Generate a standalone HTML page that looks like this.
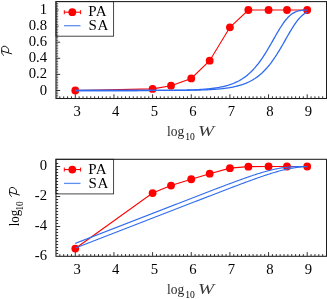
<!DOCTYPE html>
<html><head><meta charset="utf-8"><style>
html,body{margin:0;padding:0;background:#fff;}
svg{display:block;font-family:"Liberation Serif",serif;will-change:transform;}
</style></head><body>
<svg width="327" height="299" viewBox="0 0 327 299">
<rect x="55.97" y="1.6" width="57.62" height="34.60" fill="none" stroke="#333" stroke-width="0.9"/>
<line x1="64.30" y1="12.20" x2="80.60" y2="12.20" stroke="#ff0000" stroke-width="1.1"/>
<line x1="64.30" y1="10.20" x2="64.30" y2="14.20" stroke="#ff0000" stroke-width="1.0"/>
<line x1="80.60" y1="10.20" x2="80.60" y2="14.20" stroke="#ff0000" stroke-width="1.0"/>
<circle cx="72.3" cy="12.2" r="3.9" fill="#ff0000"/>
<line x1="64.00" y1="25.70" x2="80.50" y2="25.70" stroke="#5f8ff0" stroke-width="1.3"/>
<text x="88.3" y="16.00" font-size="15" letter-spacing="0.45">PA</text>
<text x="88.6" y="29.90" font-size="15" letter-spacing="0.45">SA</text>
<rect x="55.97" y="159.3" width="57.62" height="34.60" fill="none" stroke="#333" stroke-width="0.9"/>
<line x1="64.30" y1="169.55" x2="80.60" y2="169.55" stroke="#ff0000" stroke-width="1.1"/>
<line x1="64.30" y1="167.55" x2="64.30" y2="171.55" stroke="#ff0000" stroke-width="1.0"/>
<line x1="80.60" y1="167.55" x2="80.60" y2="171.55" stroke="#ff0000" stroke-width="1.0"/>
<circle cx="72.3" cy="169.55" r="3.9" fill="#ff0000"/>
<line x1="64.00" y1="183.40" x2="80.50" y2="183.40" stroke="#5f8ff0" stroke-width="1.3"/>
<text x="88.3" y="173.70" font-size="15" letter-spacing="0.45">PA</text>
<text x="88.6" y="187.60" font-size="15" letter-spacing="0.45">SA</text>
<line x1="59.84" y1="98.50" x2="59.84" y2="96.30" stroke="#000" stroke-width="0.8"/>
<line x1="63.71" y1="98.50" x2="63.71" y2="96.30" stroke="#000" stroke-width="0.8"/>
<line x1="67.57" y1="98.50" x2="67.57" y2="96.30" stroke="#000" stroke-width="0.8"/>
<line x1="71.43" y1="98.50" x2="71.43" y2="96.30" stroke="#000" stroke-width="0.8"/>
<line x1="75.30" y1="98.50" x2="75.30" y2="94.30" stroke="#000" stroke-width="0.8"/>
<line x1="79.17" y1="98.50" x2="79.17" y2="96.30" stroke="#000" stroke-width="0.8"/>
<line x1="83.03" y1="98.50" x2="83.03" y2="96.30" stroke="#000" stroke-width="0.8"/>
<line x1="86.89" y1="98.50" x2="86.89" y2="96.30" stroke="#000" stroke-width="0.8"/>
<line x1="90.76" y1="98.50" x2="90.76" y2="96.30" stroke="#000" stroke-width="0.8"/>
<line x1="94.62" y1="98.50" x2="94.62" y2="96.30" stroke="#000" stroke-width="0.8"/>
<line x1="98.49" y1="98.50" x2="98.49" y2="96.30" stroke="#000" stroke-width="0.8"/>
<line x1="102.36" y1="98.50" x2="102.36" y2="96.30" stroke="#000" stroke-width="0.8"/>
<line x1="106.22" y1="98.50" x2="106.22" y2="96.30" stroke="#000" stroke-width="0.8"/>
<line x1="110.08" y1="98.50" x2="110.08" y2="96.30" stroke="#000" stroke-width="0.8"/>
<line x1="113.95" y1="98.50" x2="113.95" y2="94.30" stroke="#000" stroke-width="0.8"/>
<line x1="117.81" y1="98.50" x2="117.81" y2="96.30" stroke="#000" stroke-width="0.8"/>
<line x1="121.68" y1="98.50" x2="121.68" y2="96.30" stroke="#000" stroke-width="0.8"/>
<line x1="125.54" y1="98.50" x2="125.54" y2="96.30" stroke="#000" stroke-width="0.8"/>
<line x1="129.41" y1="98.50" x2="129.41" y2="96.30" stroke="#000" stroke-width="0.8"/>
<line x1="133.27" y1="98.50" x2="133.27" y2="96.30" stroke="#000" stroke-width="0.8"/>
<line x1="137.14" y1="98.50" x2="137.14" y2="96.30" stroke="#000" stroke-width="0.8"/>
<line x1="141.00" y1="98.50" x2="141.00" y2="96.30" stroke="#000" stroke-width="0.8"/>
<line x1="144.87" y1="98.50" x2="144.87" y2="96.30" stroke="#000" stroke-width="0.8"/>
<line x1="148.74" y1="98.50" x2="148.74" y2="96.30" stroke="#000" stroke-width="0.8"/>
<line x1="152.60" y1="98.50" x2="152.60" y2="94.30" stroke="#000" stroke-width="0.8"/>
<line x1="156.46" y1="98.50" x2="156.46" y2="96.30" stroke="#000" stroke-width="0.8"/>
<line x1="160.33" y1="98.50" x2="160.33" y2="96.30" stroke="#000" stroke-width="0.8"/>
<line x1="164.20" y1="98.50" x2="164.20" y2="96.30" stroke="#000" stroke-width="0.8"/>
<line x1="168.06" y1="98.50" x2="168.06" y2="96.30" stroke="#000" stroke-width="0.8"/>
<line x1="171.93" y1="98.50" x2="171.93" y2="96.30" stroke="#000" stroke-width="0.8"/>
<line x1="175.79" y1="98.50" x2="175.79" y2="96.30" stroke="#000" stroke-width="0.8"/>
<line x1="179.66" y1="98.50" x2="179.66" y2="96.30" stroke="#000" stroke-width="0.8"/>
<line x1="183.52" y1="98.50" x2="183.52" y2="96.30" stroke="#000" stroke-width="0.8"/>
<line x1="187.38" y1="98.50" x2="187.38" y2="96.30" stroke="#000" stroke-width="0.8"/>
<line x1="191.25" y1="98.50" x2="191.25" y2="94.30" stroke="#000" stroke-width="0.8"/>
<line x1="195.11" y1="98.50" x2="195.11" y2="96.30" stroke="#000" stroke-width="0.8"/>
<line x1="198.98" y1="98.50" x2="198.98" y2="96.30" stroke="#000" stroke-width="0.8"/>
<line x1="202.85" y1="98.50" x2="202.85" y2="96.30" stroke="#000" stroke-width="0.8"/>
<line x1="206.71" y1="98.50" x2="206.71" y2="96.30" stroke="#000" stroke-width="0.8"/>
<line x1="210.57" y1="98.50" x2="210.57" y2="96.30" stroke="#000" stroke-width="0.8"/>
<line x1="214.44" y1="98.50" x2="214.44" y2="96.30" stroke="#000" stroke-width="0.8"/>
<line x1="218.31" y1="98.50" x2="218.31" y2="96.30" stroke="#000" stroke-width="0.8"/>
<line x1="222.17" y1="98.50" x2="222.17" y2="96.30" stroke="#000" stroke-width="0.8"/>
<line x1="226.04" y1="98.50" x2="226.04" y2="96.30" stroke="#000" stroke-width="0.8"/>
<line x1="229.90" y1="98.50" x2="229.90" y2="94.30" stroke="#000" stroke-width="0.8"/>
<line x1="233.76" y1="98.50" x2="233.76" y2="96.30" stroke="#000" stroke-width="0.8"/>
<line x1="237.63" y1="98.50" x2="237.63" y2="96.30" stroke="#000" stroke-width="0.8"/>
<line x1="241.50" y1="98.50" x2="241.50" y2="96.30" stroke="#000" stroke-width="0.8"/>
<line x1="245.36" y1="98.50" x2="245.36" y2="96.30" stroke="#000" stroke-width="0.8"/>
<line x1="249.22" y1="98.50" x2="249.22" y2="96.30" stroke="#000" stroke-width="0.8"/>
<line x1="253.09" y1="98.50" x2="253.09" y2="96.30" stroke="#000" stroke-width="0.8"/>
<line x1="256.95" y1="98.50" x2="256.95" y2="96.30" stroke="#000" stroke-width="0.8"/>
<line x1="260.82" y1="98.50" x2="260.82" y2="96.30" stroke="#000" stroke-width="0.8"/>
<line x1="264.69" y1="98.50" x2="264.69" y2="96.30" stroke="#000" stroke-width="0.8"/>
<line x1="268.55" y1="98.50" x2="268.55" y2="94.30" stroke="#000" stroke-width="0.8"/>
<line x1="272.42" y1="98.50" x2="272.42" y2="96.30" stroke="#000" stroke-width="0.8"/>
<line x1="276.28" y1="98.50" x2="276.28" y2="96.30" stroke="#000" stroke-width="0.8"/>
<line x1="280.15" y1="98.50" x2="280.15" y2="96.30" stroke="#000" stroke-width="0.8"/>
<line x1="284.01" y1="98.50" x2="284.01" y2="96.30" stroke="#000" stroke-width="0.8"/>
<line x1="287.88" y1="98.50" x2="287.88" y2="96.30" stroke="#000" stroke-width="0.8"/>
<line x1="291.74" y1="98.50" x2="291.74" y2="96.30" stroke="#000" stroke-width="0.8"/>
<line x1="295.60" y1="98.50" x2="295.60" y2="96.30" stroke="#000" stroke-width="0.8"/>
<line x1="299.47" y1="98.50" x2="299.47" y2="96.30" stroke="#000" stroke-width="0.8"/>
<line x1="303.33" y1="98.50" x2="303.33" y2="96.30" stroke="#000" stroke-width="0.8"/>
<line x1="307.20" y1="98.50" x2="307.20" y2="94.30" stroke="#000" stroke-width="0.8"/>
<line x1="311.07" y1="98.50" x2="311.07" y2="96.30" stroke="#000" stroke-width="0.8"/>
<line x1="314.93" y1="98.50" x2="314.93" y2="96.30" stroke="#000" stroke-width="0.8"/>
<line x1="318.80" y1="98.50" x2="318.80" y2="96.30" stroke="#000" stroke-width="0.8"/>
<line x1="322.66" y1="98.50" x2="322.66" y2="96.30" stroke="#000" stroke-width="0.8"/>
<line x1="55.97" y1="90.50" x2="60.17" y2="90.50" stroke="#000" stroke-width="0.8"/>
<line x1="55.97" y1="74.40" x2="60.17" y2="74.40" stroke="#000" stroke-width="0.8"/>
<line x1="55.97" y1="58.30" x2="60.17" y2="58.30" stroke="#000" stroke-width="0.8"/>
<line x1="55.97" y1="42.20" x2="60.17" y2="42.20" stroke="#000" stroke-width="0.8"/>
<line x1="55.97" y1="26.10" x2="58.67" y2="26.10" stroke="#000" stroke-width="0.8"/>
<line x1="55.97" y1="10.00" x2="58.67" y2="10.00" stroke="#000" stroke-width="0.8"/>
<line x1="55.97" y1="96.94" x2="58.17" y2="96.94" stroke="#000" stroke-width="0.6"/>
<line x1="55.97" y1="95.33" x2="58.17" y2="95.33" stroke="#000" stroke-width="0.6"/>
<line x1="55.97" y1="93.72" x2="58.17" y2="93.72" stroke="#000" stroke-width="0.6"/>
<line x1="55.97" y1="92.11" x2="58.17" y2="92.11" stroke="#000" stroke-width="0.6"/>
<line x1="55.97" y1="88.89" x2="58.17" y2="88.89" stroke="#000" stroke-width="0.6"/>
<line x1="55.97" y1="87.28" x2="58.17" y2="87.28" stroke="#000" stroke-width="0.6"/>
<line x1="55.97" y1="85.67" x2="58.17" y2="85.67" stroke="#000" stroke-width="0.6"/>
<line x1="55.97" y1="84.06" x2="58.17" y2="84.06" stroke="#000" stroke-width="0.6"/>
<line x1="55.97" y1="82.45" x2="58.17" y2="82.45" stroke="#000" stroke-width="0.6"/>
<line x1="55.97" y1="80.84" x2="58.17" y2="80.84" stroke="#000" stroke-width="0.6"/>
<line x1="55.97" y1="79.23" x2="58.17" y2="79.23" stroke="#000" stroke-width="0.6"/>
<line x1="55.97" y1="77.62" x2="58.17" y2="77.62" stroke="#000" stroke-width="0.6"/>
<line x1="55.97" y1="76.01" x2="58.17" y2="76.01" stroke="#000" stroke-width="0.6"/>
<line x1="55.97" y1="72.79" x2="58.17" y2="72.79" stroke="#000" stroke-width="0.6"/>
<line x1="55.97" y1="71.18" x2="58.17" y2="71.18" stroke="#000" stroke-width="0.6"/>
<line x1="55.97" y1="69.57" x2="58.17" y2="69.57" stroke="#000" stroke-width="0.6"/>
<line x1="55.97" y1="67.96" x2="58.17" y2="67.96" stroke="#000" stroke-width="0.6"/>
<line x1="55.97" y1="66.35" x2="58.17" y2="66.35" stroke="#000" stroke-width="0.6"/>
<line x1="55.97" y1="64.74" x2="58.17" y2="64.74" stroke="#000" stroke-width="0.6"/>
<line x1="55.97" y1="63.13" x2="58.17" y2="63.13" stroke="#000" stroke-width="0.6"/>
<line x1="55.97" y1="61.52" x2="58.17" y2="61.52" stroke="#000" stroke-width="0.6"/>
<line x1="55.97" y1="59.91" x2="58.17" y2="59.91" stroke="#000" stroke-width="0.6"/>
<line x1="55.97" y1="56.69" x2="58.17" y2="56.69" stroke="#000" stroke-width="0.6"/>
<line x1="55.97" y1="55.08" x2="58.17" y2="55.08" stroke="#000" stroke-width="0.6"/>
<line x1="55.97" y1="53.47" x2="58.17" y2="53.47" stroke="#000" stroke-width="0.6"/>
<line x1="55.97" y1="51.86" x2="58.17" y2="51.86" stroke="#000" stroke-width="0.6"/>
<line x1="55.97" y1="50.25" x2="58.17" y2="50.25" stroke="#000" stroke-width="0.6"/>
<line x1="55.97" y1="48.64" x2="58.17" y2="48.64" stroke="#000" stroke-width="0.6"/>
<line x1="55.97" y1="47.03" x2="58.17" y2="47.03" stroke="#000" stroke-width="0.6"/>
<line x1="55.97" y1="45.42" x2="58.17" y2="45.42" stroke="#000" stroke-width="0.6"/>
<line x1="55.97" y1="43.81" x2="58.17" y2="43.81" stroke="#000" stroke-width="0.6"/>
<line x1="55.97" y1="40.59" x2="58.17" y2="40.59" stroke="#000" stroke-width="0.6"/>
<line x1="55.97" y1="38.98" x2="58.17" y2="38.98" stroke="#000" stroke-width="0.6"/>
<line x1="55.97" y1="37.37" x2="58.17" y2="37.37" stroke="#000" stroke-width="0.6"/>
<line x1="55.97" y1="35.76" x2="58.17" y2="35.76" stroke="#000" stroke-width="0.6"/>
<line x1="55.97" y1="34.15" x2="58.17" y2="34.15" stroke="#000" stroke-width="0.6"/>
<line x1="55.97" y1="32.54" x2="58.17" y2="32.54" stroke="#000" stroke-width="0.6"/>
<line x1="55.97" y1="30.93" x2="58.17" y2="30.93" stroke="#000" stroke-width="0.6"/>
<line x1="55.97" y1="29.32" x2="58.17" y2="29.32" stroke="#000" stroke-width="0.6"/>
<line x1="55.97" y1="27.71" x2="58.17" y2="27.71" stroke="#000" stroke-width="0.6"/>
<line x1="55.97" y1="24.49" x2="58.17" y2="24.49" stroke="#000" stroke-width="0.6"/>
<line x1="55.97" y1="22.88" x2="58.17" y2="22.88" stroke="#000" stroke-width="0.6"/>
<line x1="55.97" y1="21.27" x2="58.17" y2="21.27" stroke="#000" stroke-width="0.6"/>
<line x1="55.97" y1="19.66" x2="58.17" y2="19.66" stroke="#000" stroke-width="0.6"/>
<line x1="55.97" y1="18.05" x2="58.17" y2="18.05" stroke="#000" stroke-width="0.6"/>
<line x1="55.97" y1="16.44" x2="58.17" y2="16.44" stroke="#000" stroke-width="0.6"/>
<line x1="55.97" y1="14.83" x2="58.17" y2="14.83" stroke="#000" stroke-width="0.6"/>
<line x1="55.97" y1="13.22" x2="58.17" y2="13.22" stroke="#000" stroke-width="0.6"/>
<line x1="55.97" y1="11.61" x2="58.17" y2="11.61" stroke="#000" stroke-width="0.6"/>
<line x1="55.97" y1="8.39" x2="58.17" y2="8.39" stroke="#000" stroke-width="0.6"/>
<line x1="55.97" y1="6.78" x2="58.17" y2="6.78" stroke="#000" stroke-width="0.6"/>
<line x1="55.97" y1="5.17" x2="58.17" y2="5.17" stroke="#000" stroke-width="0.6"/>
<line x1="55.97" y1="3.56" x2="58.17" y2="3.56" stroke="#000" stroke-width="0.6"/>
<line x1="59.84" y1="256.30" x2="59.84" y2="254.10" stroke="#000" stroke-width="0.8"/>
<line x1="63.71" y1="256.30" x2="63.71" y2="254.10" stroke="#000" stroke-width="0.8"/>
<line x1="67.57" y1="256.30" x2="67.57" y2="254.10" stroke="#000" stroke-width="0.8"/>
<line x1="71.43" y1="256.30" x2="71.43" y2="254.10" stroke="#000" stroke-width="0.8"/>
<line x1="75.30" y1="256.30" x2="75.30" y2="252.10" stroke="#000" stroke-width="0.8"/>
<line x1="79.17" y1="256.30" x2="79.17" y2="254.10" stroke="#000" stroke-width="0.8"/>
<line x1="83.03" y1="256.30" x2="83.03" y2="254.10" stroke="#000" stroke-width="0.8"/>
<line x1="86.89" y1="256.30" x2="86.89" y2="254.10" stroke="#000" stroke-width="0.8"/>
<line x1="90.76" y1="256.30" x2="90.76" y2="254.10" stroke="#000" stroke-width="0.8"/>
<line x1="94.62" y1="256.30" x2="94.62" y2="254.10" stroke="#000" stroke-width="0.8"/>
<line x1="98.49" y1="256.30" x2="98.49" y2="254.10" stroke="#000" stroke-width="0.8"/>
<line x1="102.36" y1="256.30" x2="102.36" y2="254.10" stroke="#000" stroke-width="0.8"/>
<line x1="106.22" y1="256.30" x2="106.22" y2="254.10" stroke="#000" stroke-width="0.8"/>
<line x1="110.08" y1="256.30" x2="110.08" y2="254.10" stroke="#000" stroke-width="0.8"/>
<line x1="113.95" y1="256.30" x2="113.95" y2="252.10" stroke="#000" stroke-width="0.8"/>
<line x1="117.81" y1="256.30" x2="117.81" y2="254.10" stroke="#000" stroke-width="0.8"/>
<line x1="121.68" y1="256.30" x2="121.68" y2="254.10" stroke="#000" stroke-width="0.8"/>
<line x1="125.54" y1="256.30" x2="125.54" y2="254.10" stroke="#000" stroke-width="0.8"/>
<line x1="129.41" y1="256.30" x2="129.41" y2="254.10" stroke="#000" stroke-width="0.8"/>
<line x1="133.27" y1="256.30" x2="133.27" y2="254.10" stroke="#000" stroke-width="0.8"/>
<line x1="137.14" y1="256.30" x2="137.14" y2="254.10" stroke="#000" stroke-width="0.8"/>
<line x1="141.00" y1="256.30" x2="141.00" y2="254.10" stroke="#000" stroke-width="0.8"/>
<line x1="144.87" y1="256.30" x2="144.87" y2="254.10" stroke="#000" stroke-width="0.8"/>
<line x1="148.74" y1="256.30" x2="148.74" y2="254.10" stroke="#000" stroke-width="0.8"/>
<line x1="152.60" y1="256.30" x2="152.60" y2="252.10" stroke="#000" stroke-width="0.8"/>
<line x1="156.46" y1="256.30" x2="156.46" y2="254.10" stroke="#000" stroke-width="0.8"/>
<line x1="160.33" y1="256.30" x2="160.33" y2="254.10" stroke="#000" stroke-width="0.8"/>
<line x1="164.20" y1="256.30" x2="164.20" y2="254.10" stroke="#000" stroke-width="0.8"/>
<line x1="168.06" y1="256.30" x2="168.06" y2="254.10" stroke="#000" stroke-width="0.8"/>
<line x1="171.93" y1="256.30" x2="171.93" y2="254.10" stroke="#000" stroke-width="0.8"/>
<line x1="175.79" y1="256.30" x2="175.79" y2="254.10" stroke="#000" stroke-width="0.8"/>
<line x1="179.66" y1="256.30" x2="179.66" y2="254.10" stroke="#000" stroke-width="0.8"/>
<line x1="183.52" y1="256.30" x2="183.52" y2="254.10" stroke="#000" stroke-width="0.8"/>
<line x1="187.38" y1="256.30" x2="187.38" y2="254.10" stroke="#000" stroke-width="0.8"/>
<line x1="191.25" y1="256.30" x2="191.25" y2="252.10" stroke="#000" stroke-width="0.8"/>
<line x1="195.11" y1="256.30" x2="195.11" y2="254.10" stroke="#000" stroke-width="0.8"/>
<line x1="198.98" y1="256.30" x2="198.98" y2="254.10" stroke="#000" stroke-width="0.8"/>
<line x1="202.85" y1="256.30" x2="202.85" y2="254.10" stroke="#000" stroke-width="0.8"/>
<line x1="206.71" y1="256.30" x2="206.71" y2="254.10" stroke="#000" stroke-width="0.8"/>
<line x1="210.57" y1="256.30" x2="210.57" y2="254.10" stroke="#000" stroke-width="0.8"/>
<line x1="214.44" y1="256.30" x2="214.44" y2="254.10" stroke="#000" stroke-width="0.8"/>
<line x1="218.31" y1="256.30" x2="218.31" y2="254.10" stroke="#000" stroke-width="0.8"/>
<line x1="222.17" y1="256.30" x2="222.17" y2="254.10" stroke="#000" stroke-width="0.8"/>
<line x1="226.04" y1="256.30" x2="226.04" y2="254.10" stroke="#000" stroke-width="0.8"/>
<line x1="229.90" y1="256.30" x2="229.90" y2="252.10" stroke="#000" stroke-width="0.8"/>
<line x1="233.76" y1="256.30" x2="233.76" y2="254.10" stroke="#000" stroke-width="0.8"/>
<line x1="237.63" y1="256.30" x2="237.63" y2="254.10" stroke="#000" stroke-width="0.8"/>
<line x1="241.50" y1="256.30" x2="241.50" y2="254.10" stroke="#000" stroke-width="0.8"/>
<line x1="245.36" y1="256.30" x2="245.36" y2="254.10" stroke="#000" stroke-width="0.8"/>
<line x1="249.22" y1="256.30" x2="249.22" y2="254.10" stroke="#000" stroke-width="0.8"/>
<line x1="253.09" y1="256.30" x2="253.09" y2="254.10" stroke="#000" stroke-width="0.8"/>
<line x1="256.95" y1="256.30" x2="256.95" y2="254.10" stroke="#000" stroke-width="0.8"/>
<line x1="260.82" y1="256.30" x2="260.82" y2="254.10" stroke="#000" stroke-width="0.8"/>
<line x1="264.69" y1="256.30" x2="264.69" y2="254.10" stroke="#000" stroke-width="0.8"/>
<line x1="268.55" y1="256.30" x2="268.55" y2="252.10" stroke="#000" stroke-width="0.8"/>
<line x1="272.42" y1="256.30" x2="272.42" y2="254.10" stroke="#000" stroke-width="0.8"/>
<line x1="276.28" y1="256.30" x2="276.28" y2="254.10" stroke="#000" stroke-width="0.8"/>
<line x1="280.15" y1="256.30" x2="280.15" y2="254.10" stroke="#000" stroke-width="0.8"/>
<line x1="284.01" y1="256.30" x2="284.01" y2="254.10" stroke="#000" stroke-width="0.8"/>
<line x1="287.88" y1="256.30" x2="287.88" y2="254.10" stroke="#000" stroke-width="0.8"/>
<line x1="291.74" y1="256.30" x2="291.74" y2="254.10" stroke="#000" stroke-width="0.8"/>
<line x1="295.60" y1="256.30" x2="295.60" y2="254.10" stroke="#000" stroke-width="0.8"/>
<line x1="299.47" y1="256.30" x2="299.47" y2="254.10" stroke="#000" stroke-width="0.8"/>
<line x1="303.33" y1="256.30" x2="303.33" y2="254.10" stroke="#000" stroke-width="0.8"/>
<line x1="307.20" y1="256.30" x2="307.20" y2="252.10" stroke="#000" stroke-width="0.8"/>
<line x1="311.07" y1="256.30" x2="311.07" y2="254.10" stroke="#000" stroke-width="0.8"/>
<line x1="314.93" y1="256.30" x2="314.93" y2="254.10" stroke="#000" stroke-width="0.8"/>
<line x1="318.80" y1="256.30" x2="318.80" y2="254.10" stroke="#000" stroke-width="0.8"/>
<line x1="322.66" y1="256.30" x2="322.66" y2="254.10" stroke="#000" stroke-width="0.8"/>
<line x1="55.97" y1="166.50" x2="60.17" y2="166.50" stroke="#000" stroke-width="0.8"/>
<line x1="55.97" y1="196.50" x2="60.17" y2="196.50" stroke="#000" stroke-width="0.8"/>
<line x1="55.97" y1="226.50" x2="60.17" y2="226.50" stroke="#000" stroke-width="0.8"/>
<line x1="55.97" y1="163.50" x2="58.17" y2="163.50" stroke="#000" stroke-width="0.8"/>
<line x1="55.97" y1="169.50" x2="58.17" y2="169.50" stroke="#000" stroke-width="0.8"/>
<line x1="55.97" y1="172.50" x2="58.17" y2="172.50" stroke="#000" stroke-width="0.8"/>
<line x1="55.97" y1="175.50" x2="58.17" y2="175.50" stroke="#000" stroke-width="0.8"/>
<line x1="55.97" y1="178.50" x2="58.17" y2="178.50" stroke="#000" stroke-width="0.8"/>
<line x1="55.97" y1="181.50" x2="58.17" y2="181.50" stroke="#000" stroke-width="0.8"/>
<line x1="55.97" y1="184.50" x2="58.17" y2="184.50" stroke="#000" stroke-width="0.8"/>
<line x1="55.97" y1="187.50" x2="58.17" y2="187.50" stroke="#000" stroke-width="0.8"/>
<line x1="55.97" y1="190.50" x2="58.17" y2="190.50" stroke="#000" stroke-width="0.8"/>
<line x1="55.97" y1="193.50" x2="58.17" y2="193.50" stroke="#000" stroke-width="0.8"/>
<line x1="55.97" y1="199.50" x2="58.17" y2="199.50" stroke="#000" stroke-width="0.8"/>
<line x1="55.97" y1="202.50" x2="58.17" y2="202.50" stroke="#000" stroke-width="0.8"/>
<line x1="55.97" y1="205.50" x2="58.17" y2="205.50" stroke="#000" stroke-width="0.8"/>
<line x1="55.97" y1="208.50" x2="58.17" y2="208.50" stroke="#000" stroke-width="0.8"/>
<line x1="55.97" y1="211.50" x2="58.17" y2="211.50" stroke="#000" stroke-width="0.8"/>
<line x1="55.97" y1="214.50" x2="58.17" y2="214.50" stroke="#000" stroke-width="0.8"/>
<line x1="55.97" y1="217.50" x2="58.17" y2="217.50" stroke="#000" stroke-width="0.8"/>
<line x1="55.97" y1="220.50" x2="58.17" y2="220.50" stroke="#000" stroke-width="0.8"/>
<line x1="55.97" y1="223.50" x2="58.17" y2="223.50" stroke="#000" stroke-width="0.8"/>
<line x1="55.97" y1="229.50" x2="58.17" y2="229.50" stroke="#000" stroke-width="0.8"/>
<line x1="55.97" y1="232.50" x2="58.17" y2="232.50" stroke="#000" stroke-width="0.8"/>
<line x1="55.97" y1="235.50" x2="58.17" y2="235.50" stroke="#000" stroke-width="0.8"/>
<line x1="55.97" y1="238.50" x2="58.17" y2="238.50" stroke="#000" stroke-width="0.8"/>
<line x1="55.97" y1="241.50" x2="58.17" y2="241.50" stroke="#000" stroke-width="0.8"/>
<line x1="55.97" y1="244.50" x2="58.17" y2="244.50" stroke="#000" stroke-width="0.8"/>
<line x1="55.97" y1="247.50" x2="58.17" y2="247.50" stroke="#000" stroke-width="0.8"/>
<line x1="55.97" y1="250.50" x2="58.17" y2="250.50" stroke="#000" stroke-width="0.8"/>
<line x1="55.97" y1="253.50" x2="58.17" y2="253.50" stroke="#000" stroke-width="0.8"/>
<polyline fill="none" stroke="#ff0000" stroke-width="1.1" points="75.30,90.50 152.60,88.89 171.04,85.67 191.25,78.42 209.69,60.72 229.90,27.31 248.34,10.00 268.55,10.00 286.99,10.00 307.20,10.00"/>
<circle cx="75.30" cy="90.50" r="3.9" fill="#ff0000"/>
<circle cx="152.60" cy="88.89" r="3.9" fill="#ff0000"/>
<circle cx="171.04" cy="85.67" r="3.9" fill="#ff0000"/>
<circle cx="191.25" cy="78.42" r="3.9" fill="#ff0000"/>
<circle cx="209.69" cy="60.72" r="3.9" fill="#ff0000"/>
<circle cx="229.90" cy="27.31" r="3.9" fill="#ff0000"/>
<circle cx="248.34" cy="10.00" r="3.9" fill="#ff0000"/>
<circle cx="268.55" cy="10.00" r="3.9" fill="#ff0000"/>
<circle cx="286.99" cy="10.00" r="3.9" fill="#ff0000"/>
<circle cx="307.20" cy="10.00" r="3.9" fill="#ff0000"/>
<polyline fill="none" stroke="#ff0000" stroke-width="1.1" points="75.30,248.55 152.60,193.05 171.04,185.55 191.25,179.25 209.69,173.70 229.90,168.15 248.34,166.65 268.55,166.50 286.99,166.50 307.20,166.50"/>
<circle cx="75.30" cy="248.55" r="3.9" fill="#ff0000"/>
<circle cx="152.60" cy="193.05" r="3.9" fill="#ff0000"/>
<circle cx="171.04" cy="185.55" r="3.9" fill="#ff0000"/>
<circle cx="191.25" cy="179.25" r="3.9" fill="#ff0000"/>
<circle cx="209.69" cy="173.70" r="3.9" fill="#ff0000"/>
<circle cx="229.90" cy="168.15" r="3.9" fill="#ff0000"/>
<circle cx="248.34" cy="166.65" r="3.9" fill="#ff0000"/>
<circle cx="268.55" cy="166.50" r="3.9" fill="#ff0000"/>
<circle cx="286.99" cy="166.50" r="3.9" fill="#ff0000"/>
<circle cx="307.20" cy="166.50" r="3.9" fill="#ff0000"/>
<polyline fill="none" stroke="#2f6bf0" stroke-width="1.3" points="75.30,90.50 76.27,90.50 77.23,90.50 78.20,90.50 79.17,90.50 80.13,90.50 81.10,90.50 82.06,90.50 83.03,90.50 84.00,90.50 84.96,90.50 85.93,90.50 86.89,90.50 87.86,90.50 88.83,90.50 89.79,90.50 90.76,90.50 91.73,90.50 92.69,90.50 93.66,90.50 94.62,90.50 95.59,90.50 96.56,90.50 97.52,90.50 98.49,90.50 99.46,90.50 100.42,90.50 101.39,90.50 102.36,90.50 103.32,90.50 104.29,90.50 105.25,90.50 106.22,90.50 107.19,90.50 108.15,90.50 109.12,90.50 110.08,90.50 111.05,90.49 112.02,90.49 112.98,90.49 113.95,90.49 114.92,90.49 115.88,90.49 116.85,90.49 117.81,90.49 118.78,90.49 119.75,90.49 120.71,90.49 121.68,90.49 122.65,90.49 123.61,90.49 124.58,90.49 125.54,90.49 126.51,90.49 127.48,90.49 128.44,90.49 129.41,90.48 130.38,90.48 131.34,90.48 132.31,90.48 133.27,90.48 134.24,90.48 135.21,90.48 136.17,90.48 137.14,90.48 138.11,90.47 139.07,90.47 140.04,90.47 141.00,90.47 141.97,90.47 142.94,90.47 143.90,90.46 144.87,90.46 145.84,90.46 146.80,90.46 147.77,90.45 148.74,90.45 149.70,90.45 150.67,90.45 151.63,90.44 152.60,90.44 153.57,90.44 154.53,90.43 155.50,90.43 156.46,90.42 157.43,90.42 158.40,90.41 159.36,90.41 160.33,90.40 161.30,90.40 162.26,90.39 163.23,90.39 164.19,90.38 165.16,90.37 166.13,90.36 167.09,90.36 168.06,90.35 169.03,90.34 169.99,90.33 170.96,90.32 171.93,90.31 172.89,90.30 173.86,90.29 174.82,90.27 175.79,90.26 176.76,90.25 177.72,90.23 178.69,90.21 179.66,90.20 180.62,90.18 181.59,90.16 182.55,90.14 183.52,90.12 184.49,90.10 185.45,90.07 186.42,90.05 187.38,90.02 188.35,89.99 189.32,89.96 190.28,89.93 191.25,89.90 192.22,89.86 193.18,89.83 194.15,89.79 195.11,89.74 196.08,89.70 197.05,89.65 198.01,89.60 198.98,89.55 199.95,89.49 200.91,89.43 201.88,89.37 202.84,89.30 203.81,89.23 204.78,89.16 205.74,89.08 206.71,89.00 207.68,88.91 208.64,88.82 209.61,88.72 210.57,88.61 211.54,88.50 212.51,88.39 213.47,88.26 214.44,88.13 215.41,87.99 216.37,87.85 217.34,87.69 218.31,87.53 219.27,87.36 220.24,87.18 221.20,86.98 222.17,86.78 223.14,86.56 224.10,86.34 225.07,86.10 226.04,85.84 227.00,85.58 227.97,85.30 228.93,85.00 229.90,84.68 230.87,84.35 231.83,84.00 232.80,83.64 233.76,83.25 234.73,82.84 235.70,82.41 236.66,81.96 237.63,81.48 238.60,80.98 239.56,80.45 240.53,79.90 241.50,79.31 242.46,78.70 243.43,78.06 244.39,77.39 245.36,76.68 246.33,75.94 247.29,75.16 248.26,74.35 249.22,73.51 250.19,72.62 251.16,71.69 252.12,70.73 253.09,69.72 254.06,68.68 255.02,67.59 255.99,66.45 256.95,65.28 257.92,64.06 258.89,62.80 259.85,61.50 260.82,60.15 261.79,58.77 262.75,57.34 263.72,55.87 264.69,54.37 265.65,52.83 266.62,51.26 267.58,49.66 268.55,48.03 269.52,46.38 270.48,44.70 271.45,43.02 272.41,41.32 273.38,39.61 274.35,37.91 275.31,36.21 276.28,34.53 277.25,32.86 278.21,31.22 279.18,29.60 280.15,28.03 281.11,26.50 282.08,25.02 283.04,23.60 284.01,22.24 284.98,20.95 285.94,19.73 286.91,18.58 287.88,17.51 288.84,16.53 289.81,15.63 290.77,14.81 291.74,14.07 292.71,13.41 293.67,12.83 294.64,12.32 295.60,11.88 296.57,11.50 297.54,11.19 298.50,10.92 299.47,10.71 300.44,10.54 301.40,10.40 302.37,10.29 303.33,10.21 304.30,10.15 305.27,10.10 306.23,10.07 307.20,10.04"/>
<polyline fill="none" stroke="#2f6bf0" stroke-width="1.3" points="75.30,90.50 76.27,90.50 77.23,90.50 78.20,90.50 79.17,90.50 80.13,90.50 81.10,90.50 82.06,90.50 83.03,90.50 84.00,90.50 84.96,90.50 85.93,90.50 86.89,90.50 87.86,90.50 88.83,90.50 89.79,90.50 90.76,90.50 91.73,90.50 92.69,90.50 93.66,90.50 94.62,90.50 95.59,90.50 96.56,90.50 97.52,90.50 98.49,90.50 99.46,90.50 100.42,90.50 101.39,90.50 102.36,90.50 103.32,90.50 104.29,90.50 105.25,90.50 106.22,90.50 107.19,90.50 108.15,90.50 109.12,90.50 110.08,90.50 111.05,90.50 112.02,90.50 112.98,90.50 113.95,90.50 114.92,90.50 115.88,90.50 116.85,90.50 117.81,90.50 118.78,90.50 119.75,90.50 120.71,90.50 121.68,90.50 122.65,90.50 123.61,90.49 124.58,90.49 125.54,90.49 126.51,90.49 127.48,90.49 128.44,90.49 129.41,90.49 130.38,90.49 131.34,90.49 132.31,90.49 133.27,90.49 134.24,90.49 135.21,90.49 136.17,90.49 137.14,90.49 138.11,90.49 139.07,90.49 140.04,90.49 141.00,90.49 141.97,90.48 142.94,90.48 143.90,90.48 144.87,90.48 145.84,90.48 146.80,90.48 147.77,90.48 148.74,90.48 149.70,90.48 150.67,90.47 151.63,90.47 152.60,90.47 153.57,90.47 154.53,90.47 155.50,90.47 156.46,90.46 157.43,90.46 158.40,90.46 159.36,90.46 160.33,90.45 161.30,90.45 162.26,90.45 163.23,90.44 164.19,90.44 165.16,90.44 166.13,90.43 167.09,90.43 168.06,90.43 169.03,90.42 169.99,90.42 170.96,90.41 171.93,90.41 172.89,90.40 173.86,90.40 174.82,90.39 175.79,90.38 176.76,90.38 177.72,90.37 178.69,90.36 179.66,90.35 180.62,90.34 181.59,90.34 182.55,90.33 183.52,90.32 184.49,90.30 185.45,90.29 186.42,90.28 187.38,90.27 188.35,90.25 189.32,90.24 190.28,90.22 191.25,90.21 192.22,90.19 193.18,90.17 194.15,90.15 195.11,90.13 196.08,90.11 197.05,90.09 198.01,90.06 198.98,90.04 199.95,90.01 200.91,89.98 201.88,89.95 202.84,89.92 203.81,89.88 204.78,89.85 205.74,89.81 206.71,89.77 207.68,89.73 208.64,89.68 209.61,89.63 210.57,89.58 211.54,89.53 212.51,89.47 213.47,89.41 214.44,89.34 215.41,89.28 216.37,89.20 217.34,89.13 218.31,89.05 219.27,88.96 220.24,88.87 221.20,88.78 222.17,88.68 223.14,88.57 224.10,88.46 225.07,88.34 226.04,88.21 227.00,88.08 227.97,87.94 228.93,87.79 229.90,87.63 230.87,87.46 231.83,87.29 232.80,87.10 233.76,86.90 234.73,86.70 235.70,86.48 236.66,86.24 237.63,86.00 238.60,85.74 239.56,85.47 240.53,85.18 241.50,84.87 242.46,84.55 243.43,84.22 244.39,83.86 245.36,83.48 246.33,83.09 247.29,82.67 248.26,82.23 249.22,81.77 250.19,81.28 251.16,80.77 252.12,80.23 253.09,79.67 254.06,79.07 255.02,78.45 255.99,77.79 256.95,77.11 257.92,76.39 258.89,75.63 259.85,74.84 260.82,74.02 261.79,73.16 262.75,72.25 263.72,71.31 264.69,70.33 265.65,69.31 266.62,68.25 267.58,67.14 268.55,65.99 269.52,64.80 270.48,63.56 271.45,62.29 272.41,60.97 273.38,59.60 274.35,58.20 275.31,56.76 276.28,55.28 277.25,53.76 278.21,52.21 279.18,50.62 280.15,49.01 281.11,47.37 282.08,45.71 283.04,44.03 284.01,42.34 284.98,40.64 285.94,38.93 286.91,37.23 287.88,35.54 288.84,33.86 289.81,32.20 290.77,30.57 291.74,28.97 292.71,27.41 293.67,25.90 294.64,24.45 295.60,23.05 296.57,21.71 297.54,20.45 298.50,19.26 299.47,18.14 300.44,17.11 301.40,16.16 302.37,15.29 303.33,14.50 304.30,13.79 305.27,13.17 306.23,12.61 307.20,12.13"/>
<polyline fill="none" stroke="#2f6bf0" stroke-width="1.1" points="75.30,243.38 76.27,243.00 77.23,242.63 78.20,242.25 79.17,241.88 80.13,241.50 81.10,241.13 82.06,240.75 83.03,240.38 84.00,240.00 84.96,239.63 85.93,239.25 86.89,238.88 87.86,238.50 88.83,238.13 89.79,237.75 90.76,237.38 91.73,237.00 92.69,236.63 93.66,236.25 94.62,235.88 95.59,235.50 96.56,235.13 97.52,234.75 98.49,234.38 99.46,234.00 100.42,233.63 101.39,233.25 102.36,232.88 103.32,232.50 104.29,232.13 105.25,231.75 106.22,231.38 107.19,231.00 108.15,230.63 109.12,230.25 110.08,229.88 111.05,229.50 112.02,229.13 112.98,228.75 113.95,228.38 114.92,228.00 115.88,227.63 116.85,227.25 117.81,226.88 118.78,226.50 119.75,226.13 120.71,225.75 121.68,225.38 122.65,225.00 123.61,224.63 124.58,224.25 125.54,223.88 126.51,223.50 127.48,223.13 128.44,222.75 129.41,222.38 130.38,222.00 131.34,221.63 132.31,221.25 133.27,220.88 134.24,220.50 135.21,220.13 136.17,219.75 137.14,219.38 138.11,219.00 139.07,218.63 140.04,218.25 141.00,217.88 141.97,217.50 142.94,217.13 143.90,216.75 144.87,216.38 145.84,216.00 146.80,215.63 147.77,215.25 148.74,214.88 149.70,214.50 150.67,214.13 151.63,213.75 152.60,213.38 153.57,213.00 154.53,212.63 155.50,212.25 156.46,211.88 157.43,211.50 158.40,211.13 159.36,210.75 160.33,210.38 161.30,210.00 162.26,209.63 163.23,209.25 164.19,208.88 165.16,208.51 166.13,208.13 167.09,207.76 168.06,207.38 169.03,207.01 169.99,206.63 170.96,206.26 171.93,205.88 172.89,205.51 173.86,205.13 174.82,204.76 175.79,204.38 176.76,204.01 177.72,203.64 178.69,203.26 179.66,202.89 180.62,202.51 181.59,202.14 182.55,201.76 183.52,201.39 184.49,201.02 185.45,200.64 186.42,200.27 187.38,199.89 188.35,199.52 189.32,199.15 190.28,198.77 191.25,198.40 192.22,198.03 193.18,197.65 194.15,197.28 195.11,196.91 196.08,196.53 197.05,196.16 198.01,195.79 198.98,195.41 199.95,195.04 200.91,194.67 201.88,194.30 202.84,193.92 203.81,193.55 204.78,193.18 205.74,192.81 206.71,192.44 207.68,192.06 208.64,191.69 209.61,191.32 210.57,190.95 211.54,190.58 212.51,190.21 213.47,189.84 214.44,189.47 215.41,189.10 216.37,188.73 217.34,188.37 218.31,188.00 219.27,187.63 220.24,187.26 221.20,186.89 222.17,186.53 223.14,186.16 224.10,185.80 225.07,185.43 226.04,185.07 227.00,184.70 227.97,184.34 228.93,183.98 229.90,183.62 230.87,183.26 231.83,182.90 232.80,182.54 233.76,182.18 234.73,181.82 235.70,181.47 236.66,181.11 237.63,180.76 238.60,180.41 239.56,180.05 240.53,179.70 241.50,179.36 242.46,179.01 243.43,178.66 244.39,178.32 245.36,177.98 246.33,177.64 247.29,177.30 248.26,176.97 249.22,176.63 250.19,176.30 251.16,175.97 252.12,175.65 253.09,175.32 254.06,175.00 255.02,174.69 255.99,174.37 256.95,174.06 257.92,173.75 258.89,173.45 259.85,173.15 260.82,172.86 261.79,172.56 262.75,172.28 263.72,172.00 264.69,171.72 265.65,171.45 266.62,171.18 267.58,170.92 268.55,170.67 269.52,170.42 270.48,170.17 271.45,169.94 272.41,169.71 273.38,169.49 274.35,169.27 275.31,169.07 276.28,168.87 277.25,168.68 278.21,168.49 279.18,168.32 280.15,168.15 281.11,167.99 282.08,167.85 283.04,167.71 284.01,167.57 284.98,167.45 285.94,167.34 286.91,167.23 287.88,167.14 288.84,167.05 289.81,166.97 290.77,166.90 291.74,166.84 292.71,166.78 293.67,166.73 294.64,166.69 295.60,166.65 296.57,166.62 297.54,166.60 298.50,166.58 299.47,166.56 300.44,166.54 301.40,166.53 302.37,166.52 303.33,166.52 304.30,166.51 305.27,166.51 306.23,166.51 307.20,166.50"/>
<polyline fill="none" stroke="#2f6bf0" stroke-width="1.1" points="75.30,248.10 76.27,247.73 77.23,247.35 78.20,246.98 79.17,246.60 80.13,246.23 81.10,245.85 82.06,245.48 83.03,245.10 84.00,244.73 84.96,244.35 85.93,243.98 86.89,243.60 87.86,243.23 88.83,242.85 89.79,242.48 90.76,242.10 91.73,241.73 92.69,241.35 93.66,240.98 94.62,240.60 95.59,240.23 96.56,239.85 97.52,239.48 98.49,239.10 99.46,238.73 100.42,238.35 101.39,237.98 102.36,237.60 103.32,237.23 104.29,236.85 105.25,236.48 106.22,236.10 107.19,235.73 108.15,235.35 109.12,234.98 110.08,234.60 111.05,234.23 112.02,233.85 112.98,233.48 113.95,233.10 114.92,232.73 115.88,232.35 116.85,231.98 117.81,231.60 118.78,231.23 119.75,230.85 120.71,230.48 121.68,230.10 122.65,229.73 123.61,229.35 124.58,228.98 125.54,228.60 126.51,228.23 127.48,227.85 128.44,227.48 129.41,227.10 130.38,226.73 131.34,226.35 132.31,225.98 133.27,225.60 134.24,225.23 135.21,224.85 136.17,224.48 137.14,224.10 138.11,223.73 139.07,223.35 140.04,222.98 141.00,222.60 141.97,222.23 142.94,221.85 143.90,221.48 144.87,221.10 145.84,220.73 146.80,220.35 147.77,219.98 148.74,219.60 149.70,219.23 150.67,218.85 151.63,218.48 152.60,218.10 153.57,217.73 154.53,217.35 155.50,216.98 156.46,216.60 157.43,216.23 158.40,215.85 159.36,215.48 160.33,215.10 161.30,214.73 162.26,214.35 163.23,213.98 164.19,213.60 165.16,213.23 166.13,212.85 167.09,212.48 168.06,212.10 169.03,211.73 169.99,211.35 170.96,210.98 171.93,210.60 172.89,210.23 173.86,209.85 174.82,209.48 175.79,209.10 176.76,208.73 177.72,208.36 178.69,207.98 179.66,207.61 180.62,207.23 181.59,206.86 182.55,206.48 183.52,206.11 184.49,205.73 185.45,205.36 186.42,204.98 187.38,204.61 188.35,204.23 189.32,203.86 190.28,203.49 191.25,203.11 192.22,202.74 193.18,202.36 194.15,201.99 195.11,201.61 196.08,201.24 197.05,200.87 198.01,200.49 198.98,200.12 199.95,199.74 200.91,199.37 201.88,199.00 202.84,198.62 203.81,198.25 204.78,197.88 205.74,197.50 206.71,197.13 207.68,196.76 208.64,196.38 209.61,196.01 210.57,195.64 211.54,195.26 212.51,194.89 213.47,194.52 214.44,194.15 215.41,193.77 216.37,193.40 217.34,193.03 218.31,192.66 219.27,192.29 220.24,191.92 221.20,191.55 222.17,191.17 223.14,190.80 224.10,190.43 225.07,190.06 226.04,189.69 227.00,189.32 227.97,188.96 228.93,188.59 229.90,188.22 230.87,187.85 231.83,187.48 232.80,187.12 233.76,186.75 234.73,186.38 235.70,186.02 236.66,185.65 237.63,185.29 238.60,184.92 239.56,184.56 240.53,184.20 241.50,183.83 242.46,183.47 243.43,183.11 244.39,182.75 245.36,182.39 246.33,182.04 247.29,181.68 248.26,181.32 249.22,180.97 250.19,180.62 251.16,180.27 252.12,179.91 253.09,179.57 254.06,179.22 255.02,178.87 255.99,178.53 256.95,178.18 257.92,177.84 258.89,177.50 259.85,177.17 260.82,176.83 261.79,176.50 262.75,176.17 263.72,175.84 264.69,175.52 265.65,175.19 266.62,174.88 267.58,174.56 268.55,174.25 269.52,173.94 270.48,173.63 271.45,173.33 272.41,173.03 273.38,172.74 274.35,172.45 275.31,172.16 276.28,171.88 277.25,171.61 278.21,171.34 279.18,171.08 280.15,170.82 281.11,170.57 282.08,170.32 283.04,170.08 284.01,169.85 284.98,169.62 285.94,169.40 286.91,169.19 287.88,168.99 288.84,168.79 289.81,168.60 290.77,168.42 291.74,168.25 292.71,168.09 293.67,167.93 294.64,167.79 295.60,167.65 296.57,167.52 297.54,167.41 298.50,167.30 299.47,167.19 300.44,167.10 301.40,167.02 302.37,166.94 303.33,166.87 304.30,166.81 305.27,166.76 306.23,166.71 307.20,166.67"/>
<rect x="55.97" y="1.6" width="270.55" height="96.9" fill="none" stroke="#1c1c1c" stroke-width="1.05"/>
<rect x="55.97" y="159.3" width="270.55" height="97.0" fill="none" stroke="#1c1c1c" stroke-width="1.05"/>
<text x="47.00" y="94.50" font-size="14.7" text-anchor="end" >0</text>
<text x="47.00" y="78.40" font-size="14.7" text-anchor="end" >0.2</text>
<text x="47.00" y="62.30" font-size="14.7" text-anchor="end" >0.4</text>
<text x="47.00" y="46.20" font-size="14.7" text-anchor="end" >0.6</text>
<text x="47.00" y="30.10" font-size="14.7" text-anchor="end" >0.8</text>
<text x="47.00" y="14.00" font-size="14.7" text-anchor="end" >1</text>
<text x="47.00" y="170.40" font-size="14.7" text-anchor="end" >0</text>
<text x="47.00" y="200.40" font-size="14.7" text-anchor="end" >-2</text>
<text x="47.00" y="230.40" font-size="14.7" text-anchor="end" >-4</text>
<text x="47.00" y="260.40" font-size="14.7" text-anchor="end" >-6</text>
<text x="77.20" y="116.30" font-size="14.7" text-anchor="middle" >3</text>
<text x="115.75" y="116.30" font-size="14.7" text-anchor="middle" >4</text>
<text x="154.30" y="116.30" font-size="14.7" text-anchor="middle" >5</text>
<text x="192.85" y="116.30" font-size="14.7" text-anchor="middle" >6</text>
<text x="231.40" y="116.30" font-size="14.7" text-anchor="middle" >7</text>
<text x="269.95" y="116.30" font-size="14.7" text-anchor="middle" >8</text>
<text x="308.50" y="116.30" font-size="14.7" text-anchor="middle" >9</text>
<text x="77.20" y="274.10" font-size="14.7" text-anchor="middle" >3</text>
<text x="115.75" y="274.10" font-size="14.7" text-anchor="middle" >4</text>
<text x="154.30" y="274.10" font-size="14.7" text-anchor="middle" >5</text>
<text x="192.85" y="274.10" font-size="14.7" text-anchor="middle" >6</text>
<text x="231.40" y="274.10" font-size="14.7" text-anchor="middle" >7</text>
<text x="269.95" y="274.10" font-size="14.7" text-anchor="middle" >8</text>
<text x="308.50" y="274.10" font-size="14.7" text-anchor="middle" >9</text>
<text x="167" y="136.1" font-size="14" fill="#2a2a2a" textLength="17.2" lengthAdjust="spacingAndGlyphs">log</text>
<text x="185.2" y="140.0" font-size="11.3" textLength="9.6" lengthAdjust="spacingAndGlyphs">10</text>
<text x="197.9" y="136.1" font-size="15" font-style="italic" fill="#3a3a3a" textLength="16.2" lengthAdjust="spacingAndGlyphs">W</text>
<text x="167" y="293.7" font-size="14" fill="#2a2a2a" textLength="17.2" lengthAdjust="spacingAndGlyphs">log</text>
<text x="185.2" y="297.59999999999997" font-size="11.3" textLength="9.6" lengthAdjust="spacingAndGlyphs">10</text>
<text x="197.9" y="293.7" font-size="15" font-style="italic" fill="#3a3a3a" textLength="16.2" lengthAdjust="spacingAndGlyphs">W</text>
<path transform="translate(1.5,51.4)" d="M10.0,2.4 L0.4,-0.4 C-0.2,-2.0 0.0,-3.9 1.3,-4.9 C2.8,-5.7 5.2,-4.9 6.4,-3.1 C7.4,-1.5 7.5,0.3 6.4,1.3 M0.1,-0.4 C0.0,1.4 0.6,2.8 2.0,3.9" fill="none" stroke="#000" stroke-width="0.95" stroke-linecap="round" stroke-linejoin="round"/>
<path transform="translate(9.4,192.6)" d="M10.0,2.4 L0.4,-0.4 C-0.2,-2.0 0.0,-3.9 1.3,-4.9 C2.8,-5.7 5.2,-4.9 6.4,-3.1 C7.4,-1.5 7.5,0.3 6.4,1.3 M0.1,-0.4 C0.0,1.4 0.6,2.8 2.0,3.9" fill="none" stroke="#000" stroke-width="0.95" stroke-linecap="round" stroke-linejoin="round"/>
<text transform="translate(19.3,226.3) rotate(-90)" font-size="14" textLength="16.6" lengthAdjust="spacingAndGlyphs">log</text>
<text transform="translate(23.2,210.5) rotate(-90)" font-size="11.3" textLength="9.2" lengthAdjust="spacingAndGlyphs">10</text>
</svg>
</body></html>
